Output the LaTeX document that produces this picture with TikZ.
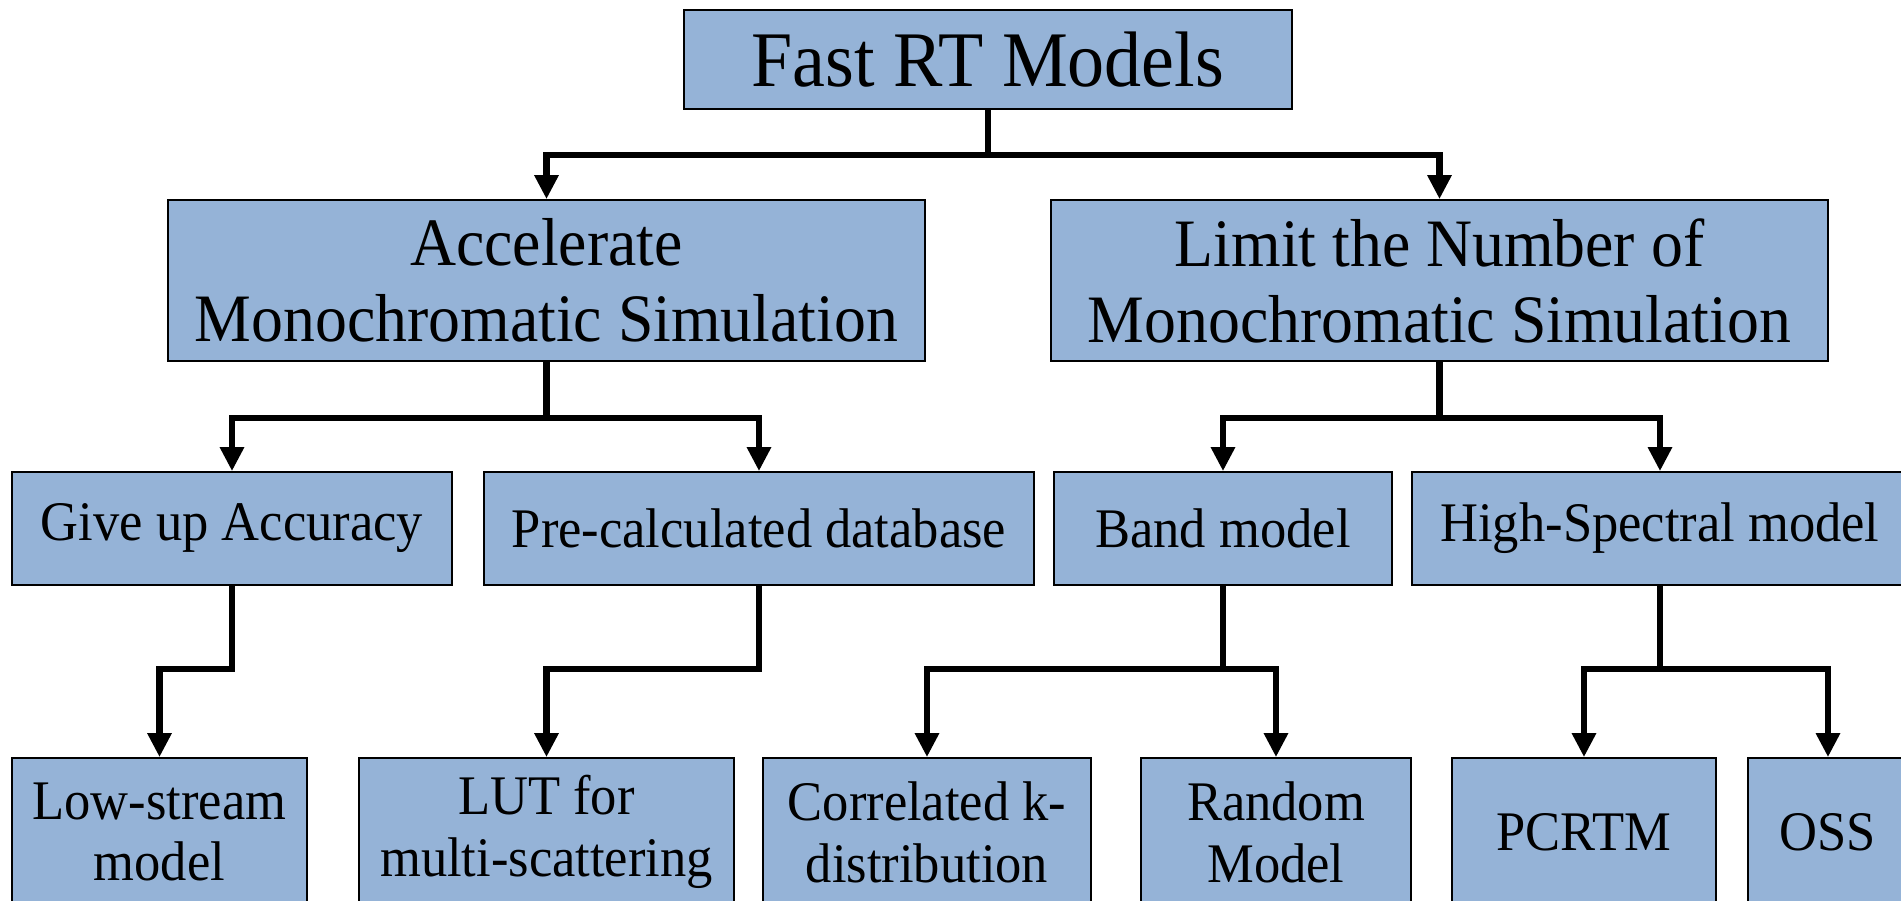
\documentclass[tikz,border=0pt]{standalone}
\usepackage{fontspec}
\setmainfont{Liberation Serif}[FakeStretch=0.94]
\usetikzlibrary{arrows.meta}
\definecolor{boxblue}{HTML}{95B3D7}

\begin{document}
\begin{tikzpicture}[box/.style={draw=black, line width=.5pt, fill=boxblue, align=center, inner sep=0pt},
  head/.style={box, font=\fontsize{22.4}{24}\selectfont},
  mid/.style={box, minimum height=1.61cm, font=\fontsize{19.3}{21.6}\selectfont},
  leaf/.style={box, font=\fontsize{15.9}{17.6}\selectfont},
  >={Triangle[length=2.4mm,width=2.3mm]}]
\path[use as bounding box, clip] (0,0) rectangle (19.01,9);
\node[head, minimum width=6.08cm, minimum height=0.99cm] (fast) at (9.88,8.405) {Fast RT Models};
\node[mid, minimum width=7.57cm] (accel) at (5.465,6.195) {Accelerate\\Monochromatic Simulation};
\node[mid, minimum width=7.77cm] (limit) at (14.395,6.195) {Limit the Number of\\Monochromatic Simulation};
\node[leaf, minimum width=4.40cm, minimum height=1.13cm] (giveup) at (2.32,3.715) {Give up Accuracy};
\node[leaf, minimum width=5.50cm, minimum height=1.13cm] (precalc) at (7.59,3.715) {Pre-calculated database};
\node[leaf, minimum width=3.38cm, minimum height=1.13cm] (band) at (12.23,3.715) {Band model};
\node[leaf, minimum width=4.96cm, minimum height=1.13cm] (hispec) at (16.60,3.715) {High-Spectral model};
\node[leaf, minimum width=2.95cm, minimum height=1.48cm] (lowstream) at (1.595,0.68) {Low-stream\\model};
\node[leaf, minimum width=3.75cm, minimum height=1.48cm] (lut) at (5.465,0.68) {LUT for\\multi-scattering};
\node[leaf, minimum width=3.28cm, minimum height=1.48cm] (corrk) at (9.27,0.68) {Correlated k-\\distribution};
\node[leaf, minimum width=2.70cm, minimum height=1.48cm] (random) at (12.76,0.68) {Random\\Model};
\node[leaf, minimum width=2.64cm, minimum height=1.48cm] (pcrtm) at (15.84,0.68) {PCRTM};
\node[leaf, minimum width=1.60cm, minimum height=1.48cm] (oss) at (18.28,0.68) {OSS};
\begin{scope}[line width=1.9pt]
\draw[->] (fast.south) -- ++(0,-0.45) -| (accel.north);
\draw[->] (fast.south) -- ++(0,-0.45) -| (limit.north);
\draw[->] (accel.south) -- ++(0,-0.56) -| (giveup.north);
\draw[->] (accel.south) -- ++(0,-0.56) -| (precalc.north);
\draw[->] (limit.south) -- ++(0,-0.56) -| (band.north);
\draw[->] (limit.south) -- ++(0,-0.56) -| (hispec.north);
\draw[->] (giveup.south) -- ++(0,-0.83) -| (lowstream.north);
\draw[->] (precalc.south) -- ++(0,-0.83) -| (lut.north);
\draw[->] (band.south) -- ++(0,-0.83) -| (corrk.north);
\draw[->] (band.south) -- ++(0,-0.83) -| (random.north);
\draw[->] (hispec.south) -- ++(0,-0.83) -| (pcrtm.north);
\draw[->] (hispec.south) -- ++(0,-0.83) -| (oss.north);
\end{scope}
\end{tikzpicture}
\end{document}
